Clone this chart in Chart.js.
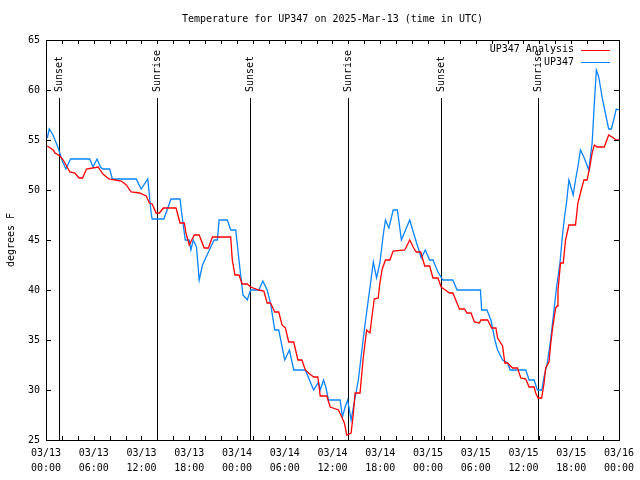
<!DOCTYPE html>
<html>
<head>
<meta charset="utf-8">
<script src="https://cdn.jsdelivr.net/npm/chart.js@4"></script>
<style>
  html, body { margin: 0; padding: 0; background: #fff; }
  #wrap { width: 640px; height: 480px; }
</style>
</head>
<body>
<div id="wrap"><canvas id="tempChart" width="640" height="480"></canvas></div>
<script>
// hours since 2025-03-13 00:00 UTC
const analysisHours = [0.16,0.91,1.13,1.75,2.16,3.0,3.63,4.16,4.59,5.09,6.54,7.16,7.91,9.46,10.09,10.71,11.75,12.59,13.0,13.34,13.84,14.25,14.75,16.34,16.84,17.38,17.59,18.0,18.63,19.25,19.88,20.41,20.91,23.21,23.41,23.75,24.25,24.66,25.29,25.71,26.75,27.38,27.79,28.21,28.75,29.25,29.66,30.09,30.5,31.13,31.66,32.16,32.59,33.0,33.63,34.16,34.46,35.29,35.71,36.75,37.16,37.5,37.79,38.34,38.63,38.84,39.46,39.88,40.29,40.71,40.91,41.25,41.75,41.96,42.25,42.66,43.21,43.63,45.09,45.71,46.34,46.54,47.09,47.59,48.21,48.63,49.25,49.66,50.0,50.71,51.13,51.75,51.96,52.59,52.91,53.41,53.84,54.46,54.66,55.5,56.0,56.54,56.75,57.38,57.66,58.0,58.63,59.25,59.66,60.29,60.71,61.34,61.54,61.84,62.29,62.59,62.79,63.21,63.41,63.63,64.04,64.25,64.34,64.66,65.0,65.29,65.71,66.54,66.84,67.16,67.59,68.0,68.34,68.63,68.91,69.25,70.16,70.71,71.13,71.66,72.0];
const analysisTemps = [54.4,54.0,53.7,53.4,53.0,51.8,51.7,51.2,51.2,52.1,52.3,51.6,51.1,50.9,50.5,49.8,49.7,49.4,48.7,48.6,47.7,47.7,48.2,48.2,46.7,46.7,45.7,44.5,45.5,45.5,44.2,44.2,45.3,45.3,43.0,41.5,41.5,40.6,40.6,40.3,40.0,39.9,38.7,38.7,37.8,37.8,36.5,36.2,34.8,34.8,33.0,33.0,32.0,31.7,31.3,31.3,29.4,29.4,28.3,28.0,27.3,26.7,25.5,25.7,27.7,29.7,29.7,33.3,36.0,35.7,37.0,39.1,39.2,40.7,42.1,43.0,43.0,43.9,44.0,45.0,44.0,43.8,43.8,42.4,42.4,41.2,41.2,40.3,40.1,39.7,39.7,38.5,38.1,38.1,37.7,37.7,36.8,36.7,37.0,37.0,36.2,36.2,35.2,34.4,32.7,32.7,32.2,32.2,31.2,31.1,30.3,30.3,29.7,29.2,29.2,30.7,32.2,32.8,34.5,36.0,38.2,38.4,40.0,42.7,42.7,45.0,46.5,46.5,48.7,49.7,51.0,51.0,52.3,53.7,54.5,54.3,54.3,55.5,55.3,55.0,55.0];

const stationHours = [0.16,0.41,0.88,1.54,2.0,2.5,3.09,5.5,5.91,6.41,6.84,7.13,8.0,8.34,11.34,11.96,12.79,13.21,13.34,14.81,15.71,16.84,17.0,17.5,18.0,18.21,18.5,18.91,19.25,19.66,20.71,21.13,21.54,21.75,22.79,23.21,23.84,24.25,24.75,25.29,25.71,26.75,27.25,27.79,28.21,28.75,29.25,30.0,30.59,31.13,32.59,33.63,34.25,34.46,34.88,35.16,35.5,36.96,37.25,37.59,37.91,38.34,39.25,40.0,40.5,40.84,41.13,41.54,41.96,42.38,42.66,43.09,43.63,44.16,44.66,45.71,46.34,47.16,47.66,48.21,48.63,49.25,49.88,51.13,51.66,54.59,54.75,55.41,55.91,56.41,56.75,57.38,58.0,58.34,60.29,60.71,61.34,61.75,62.31,62.59,63.0,63.41,63.84,64.16,64.59,64.88,65.16,65.41,65.71,66.25,66.54,66.84,67.16,67.59,68.21,68.63,68.91,69.16,69.46,69.88,70.29,70.71,71.04,71.34,71.66,72.0];
const stationTemps = [55.2,56.1,55.5,54.2,53.0,52.1,53.1,53.1,52.3,53.1,52.3,52.1,52.1,51.1,51.1,50.1,51.1,47.7,47.1,47.1,49.1,49.1,48.0,45.0,45.0,44.0,45.0,44.3,41.0,42.5,44.3,45.0,45.0,47.0,47.0,46.0,46.0,43.0,39.5,39.0,40.0,40.0,40.9,40.0,38.7,36.0,36.0,33.0,34.0,32.0,32.0,30.0,30.8,30.0,31.0,30.3,29.0,29.0,27.3,28.3,29.0,27.0,31.0,36.0,39.0,41.0,42.8,41.2,42.7,45.5,47.0,46.2,48.0,48.0,45.0,47.0,45.3,43.2,44.0,43.0,43.0,41.8,41.0,41.0,40.0,40.0,38.0,38.0,37.0,35.0,34.0,33.0,32.7,32.0,32.0,31.0,31.0,30.0,30.0,31.3,32.7,35.0,38.0,40.3,42.7,45.3,47.3,48.7,51.0,49.5,51.0,52.3,54.0,53.3,52.0,54.7,58.7,62.0,61.3,59.3,57.7,56.1,56.1,57.0,58.1,58.0];

const tickDates = ['03/13','03/13','03/13','03/13','03/14','03/14','03/14','03/14','03/15','03/15','03/15','03/15','03/16'];
const tickTimes = ['00:00','06:00','12:00','18:00','00:00','06:00','12:00','18:00','00:00','06:00','12:00','18:00','00:00'];

const sunHours = [1.66, 13.91, 25.66, 37.91, 49.67, 61.84];
const sunLabels = ['Sunset', 'Sunrise', 'Sunset', 'Sunrise', 'Sunset', 'Sunrise'];

const FONT = '10px "DejaVu Sans Mono", "Liberation Mono", monospace';

const toPoints = (xs, ys) => xs.map((x, i) => ({ x: x, y: ys[i] }));

// sunrise / sunset markers, under the data
const sunLines = {
    id: 'sunLines',
    beforeDatasetsDraw(chart) {
        const ctx = chart.ctx;
        const xs = chart.scales.x;
        const area = chart.chartArea;
        ctx.save();
        ctx.strokeStyle = '#000';
        ctx.lineWidth = 1;
        ctx.fillStyle = '#000';
        ctx.font = FONT;
        sunHours.forEach((h, i) => {
            const px = Math.round(xs.getPixelForValue(h)) + 0.5;
            ctx.beginPath();
            ctx.moveTo(px, 98);
            ctx.lineTo(px, area.bottom);
            ctx.stroke();
            ctx.save();
            ctx.translate(px, 92);
            ctx.rotate(-Math.PI / 2);
            ctx.textAlign = 'left';
            ctx.textBaseline = 'middle';
            ctx.fillText(sunLabels[i], 0, 0);
            ctx.restore();
        });
        ctx.restore();
    }
};

// gnuplot-ish frame, inward ticks, title, y label and key
const frame = {
    id: 'frame',
    afterDraw(chart) {
        const ctx = chart.ctx;
        const a = chart.chartArea;
        const xs = chart.scales.x;
        const ys = chart.scales.y;
        ctx.save();
        ctx.strokeStyle = '#000';
        ctx.lineWidth = 1;
        ctx.strokeRect(Math.round(a.left) + 0.5, Math.round(a.top) + 0.5,
            Math.round(a.right - a.left), Math.round(a.bottom - a.top));

        ctx.beginPath();
        for (let h = 0; h <= 72; h += 2) {
            const px = Math.round(xs.getPixelForValue(h)) + 0.5;
            ctx.moveTo(px, a.bottom); ctx.lineTo(px, a.bottom - 4);
            ctx.moveTo(px, a.top); ctx.lineTo(px, a.top + 4);
        }
        for (let t = 25; t <= 65; t += 5) {
            const py = Math.round(ys.getPixelForValue(t)) + 0.5;
            ctx.moveTo(a.left, py); ctx.lineTo(a.left + 5, py);
            ctx.moveTo(a.right, py); ctx.lineTo(a.right - 5, py);
        }
        ctx.stroke();

        ctx.fillStyle = '#000';
        ctx.font = FONT;
        ctx.textAlign = 'center';
        ctx.textBaseline = 'middle';
        ctx.fillText('Temperature for UP347 on 2025-Mar-13 (time in UTC)', (a.left + a.right) / 2, 19);

        ctx.save();
        ctx.translate(11, 240);
        ctx.rotate(-Math.PI / 2);
        ctx.fillText('degrees F', 0, 0);
        ctx.restore();

        // key
        chart.data.datasets.forEach((ds, i) => {
            const y = 49.5 + i * 12.5;
            ctx.textAlign = 'right';
            ctx.fillStyle = '#000';
            ctx.fillText(ds.label, 574, y);
            ctx.strokeStyle = ds.borderColor;
            ctx.beginPath();
            ctx.moveTo(581, Math.round(y) + 0.5);
            ctx.lineTo(610, Math.round(y) + 0.5);
            ctx.stroke();
        });
        ctx.restore();
    }
};

new Chart(document.getElementById('tempChart').getContext('2d'), {
    type: 'line',
    data: {
        datasets: [
            {
                label: 'UP347 Analysis',
                data: toPoints(analysisHours, analysisTemps),
                borderColor: '#ff0000',
                borderWidth: 1.3,
                pointRadius: 0,
                tension: 0,
                fill: false
            },
            {
                label: 'UP347',
                data: toPoints(stationHours, stationTemps),
                borderColor: '#0a84ff',
                borderWidth: 1.3,
                pointRadius: 0,
                tension: 0,
                fill: false
            }
        ]
    },
    options: {
        responsive: false,
        animation: false,
        events: [],
        layout: { padding: { left: 0, right: 18, top: 40, bottom: 0 } },
        plugins: {
            legend: { display: false },
            title: { display: false },
            tooltip: { enabled: false }
        },
        scales: {
            x: {
                type: 'linear',
                min: 0,
                max: 72,
                afterFit: (s) => { s.height = 40; },
                afterBuildTicks: (s) => {
                    s.ticks = tickTimes.map((_, i) => ({ value: i * 6 }));
                },
                grid: { drawOnChartArea: false, drawTicks: false },
                border: { display: false },
                ticks: {
                    color: '#000',
                    font: { family: '"DejaVu Sans Mono", monospace', size: 10, lineHeight: 1.5 },
                    padding: 6,
                    maxRotation: 0,
                    autoSkip: false,
                    callback: (v) => {
                        const i = Math.round(v / 6);
                        return [tickDates[i], tickTimes[i]];
                    }
                }
            },
            y: {
                min: 25,
                max: 65,
                afterFit: (s) => { s.width = 46; },
                grid: { drawOnChartArea: false, drawTicks: false },
                border: { display: false },
                ticks: {
                    stepSize: 5,
                    color: '#000',
                    font: { family: '"DejaVu Sans Mono", monospace', size: 10 },
                    padding: 6
                }
            }
        }
    },
    plugins: [sunLines, frame]
});
</script>
</body>
</html>
